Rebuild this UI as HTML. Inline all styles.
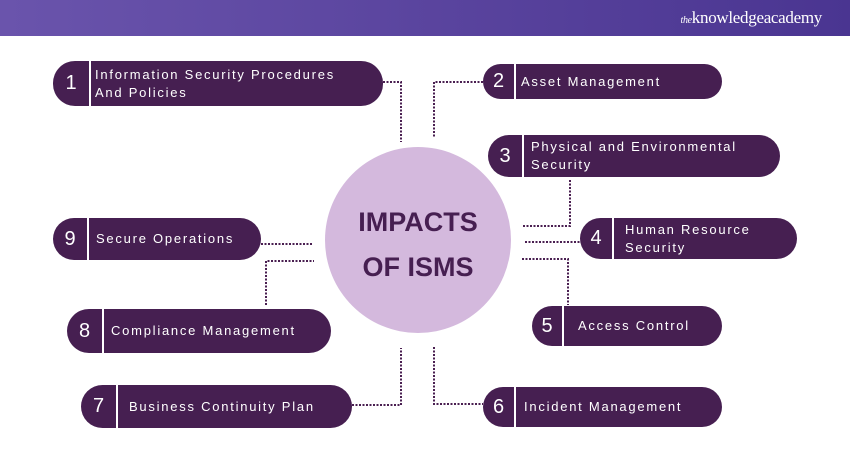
<!DOCTYPE html>
<html><head><meta charset="utf-8"><style>
body{margin:0;width:850px;height:450px;background:#fff;position:relative;overflow:hidden;font-family:"Liberation Sans",sans-serif}
.hdr{position:absolute;left:0;top:0;width:850px;height:36px;background:linear-gradient(90deg,#6a54ac,#4a3591)}
.logo{position:absolute;right:28px;top:8px;color:#fff;font-family:"Liberation Serif",serif;font-size:17px;letter-spacing:-0.3px}
.logo i{font-size:10px}
.b{position:absolute;background:#461f51;border-radius:22px;color:#fff}
.n{position:absolute;top:0;bottom:0;left:0;display:flex;align-items:center;justify-content:center;font-size:20px;border-right:2px solid #fff}
.t{position:absolute;top:0;bottom:0;display:flex;align-items:center;font-size:13px;letter-spacing:1.75px;line-height:18px;white-space:nowrap}
.c{position:absolute;left:325px;top:147px;width:186px;height:186px;border-radius:50%;background:#d4b9dd;display:flex;align-items:center;justify-content:center;text-align:center;color:#461f51;font-weight:bold;font-size:27px;line-height:45px;box-sizing:border-box;padding-top:10px}
svg{position:absolute;left:0;top:0}
</style></head><body>
<div class="hdr"><div class="logo"><i>the</i>knowledgeacademy</div></div>
<svg width="850" height="450"><g fill="none" stroke="#4a1f51" stroke-width="2" stroke-dasharray="2 1.5">
<path d="M383 82H401V142"/>
<path d="M483 82H434V138"/>
<path d="M570 180V226H523"/>
<path d="M525 242H580"/>
<path d="M522 259H568V305"/>
<path d="M434 347V404H483"/>
<path d="M352 405H401V348"/>
<path d="M266 305V261H314"/>
<path d="M261 244H312"/>
</g></svg>
<div class="c">IMPACTS<br>OF ISMS</div>
<div class="b" style="left:53px;top:61px;width:330px;height:45px"><div class="n" style="width:36px">1</div><div class="t" style="left:42px">Information Security Procedures<br>And Policies</div></div>
<div class="b" style="left:483px;top:64px;width:239px;height:35px"><div class="n" style="width:31px">2</div><div class="t" style="left:38px">Asset Management</div></div>
<div class="b" style="left:488px;top:135px;width:292px;height:42px"><div class="n" style="width:34px">3</div><div class="t" style="left:43px">Physical and Environmental<br>Security</div></div>
<div class="b" style="left:580px;top:218px;width:217px;height:41px"><div class="n" style="width:32px">4</div><div class="t" style="left:45px">Human Resource<br>Security</div></div>
<div class="b" style="left:532px;top:306px;width:190px;height:40px"><div class="n" style="width:30px">5</div><div class="t" style="left:46px">Access Control</div></div>
<div class="b" style="left:483px;top:387px;width:239px;height:40px"><div class="n" style="width:31px">6</div><div class="t" style="left:41px">Incident Management</div></div>
<div class="b" style="left:81px;top:385px;width:271px;height:43px"><div class="n" style="width:35px">7</div><div class="t" style="left:48px">Business Continuity Plan</div></div>
<div class="b" style="left:67px;top:309px;width:264px;height:44px"><div class="n" style="width:35px">8</div><div class="t" style="left:44px">Compliance Management</div></div>
<div class="b" style="left:53px;top:218px;width:208px;height:42px"><div class="n" style="width:34px">9</div><div class="t" style="left:43px">Secure Operations</div></div>
</body></html>
